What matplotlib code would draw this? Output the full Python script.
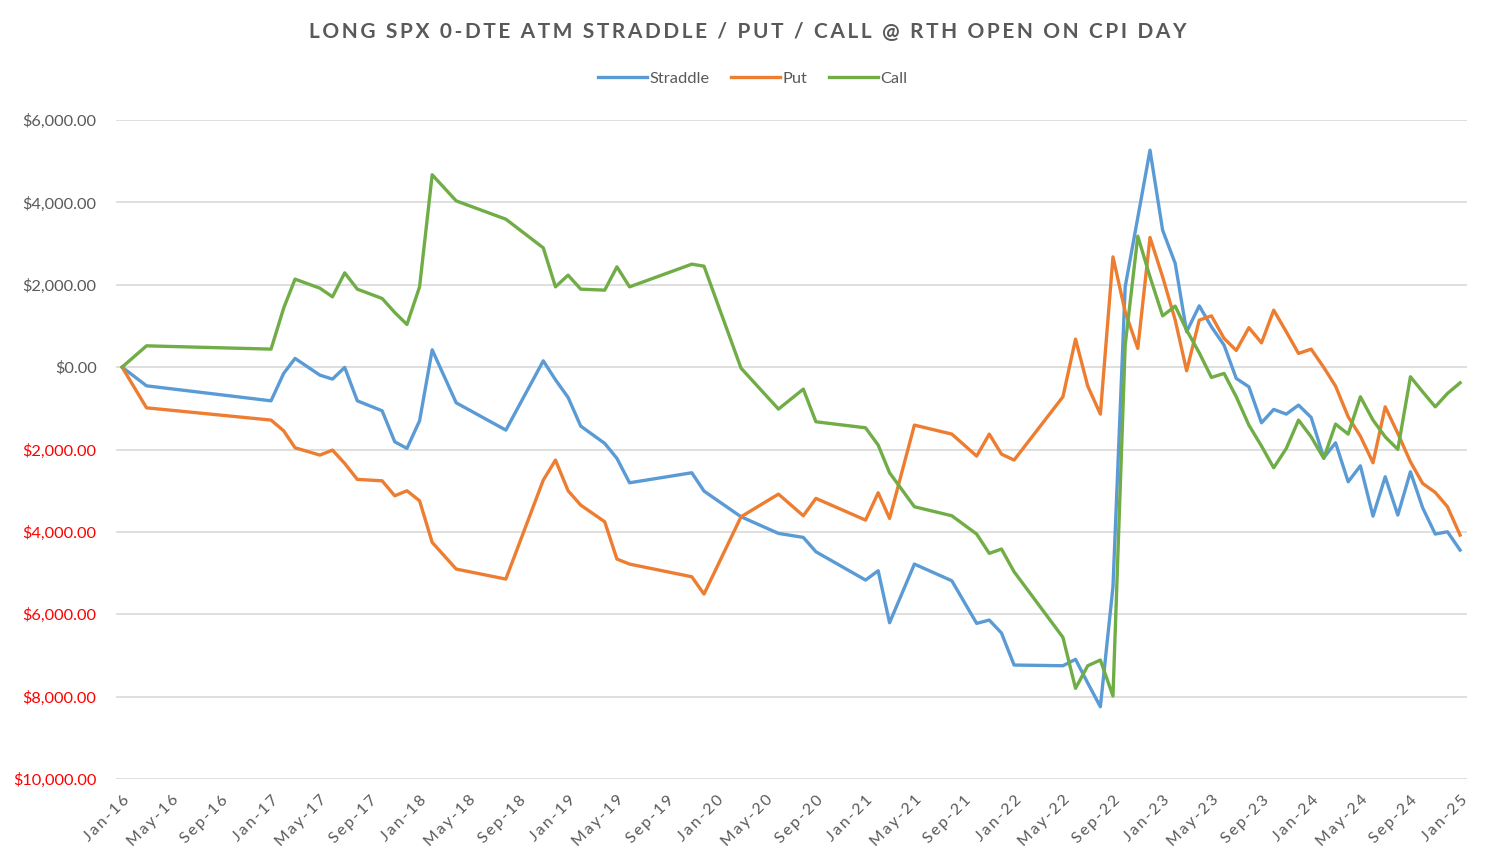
import matplotlib
matplotlib.use("Agg")
import matplotlib.pyplot as plt
import matplotlib.ticker as mticker
import matplotlib.dates as mdates
import pandas as pd

# CPI days (month of release)
dates = [
    "2016-01", "2016-03", "2017-01", "2017-02", "2017-03", "2017-05", "2017-06", "2017-07",
    "2017-08", "2017-10", "2017-11", "2017-12", "2018-01", "2018-02", "2018-04", "2018-08",
    "2018-11", "2018-12", "2019-01", "2019-02", "2019-04", "2019-05", "2019-06", "2019-11",
    "2019-12", "2020-03", "2020-06", "2020-08", "2020-09", "2021-01", "2021-02", "2021-03",
    "2021-05", "2021-08", "2021-10", "2021-11", "2021-12", "2022-01", "2022-05", "2022-06",
    "2022-07", "2022-08", "2022-09", "2022-10", "2022-11", "2022-12", "2023-01", "2023-02",
    "2023-03", "2023-04", "2023-05", "2023-06", "2023-07", "2023-08", "2023-09", "2023-10",
    "2023-11", "2023-12", "2024-01", "2024-02", "2024-03", "2024-04", "2024-05", "2024-06",
    "2024-07", "2024-08", "2024-09", "2024-10", "2024-11", "2024-12", "2025-01",
]

straddle = [
    0, -454, -818, -153, 211, -194, -291, -7, -818, -1060, -1813, -1973, -1303, 420, -866,
    -1529, 153, -308, -736, -1432, -1852, -2216, -2808, -2565, -3010,
    -3633, -4037, -4134, -4483, -5170, -4944, -6206, -4782, -5187, -6222, -6141, -6456, -7233,
    -7250, -7095, -7670, -8245, -5332, 1949, 3633, 5267, 3325, 2516, 857, 1488, 978, 534,
    -275, -478, -1352, -1027, -1141, -922, -1221, -2201, -1837, -2784, -2396, -3617, -2662,
    -3592, -2541, -3415, -4053, -3997, -4442,
]

put = [
    0, -988, -1286, -1546, -1958, -2136, -2015, -2338, -2726, -2760, -3124, -3002, -3245,
    -4255, -4903, -5146, -2743, -2257, -3002, -3350, -3755, -4660, -4782, -5090, -5510,
    -3633, -3083, -3609, -3187, -3714, -3051, -3673, -1408, -1626, -2160, -1626, -2112, -2257,
    -720, 680, -461, -1141, 2677, 1342, 454, 3148, 2192, 1141, -89, 1141, 1245, 697,
    405, 958, 590, 1383, 857, 332, 437, -7, -461, -1206, -1675, -2322, -964,
    -1610, -2298, -2824, -3042, -3390, -4077,
]

call = [
    0, 517, 437, 1432, 2136, 1917, 1706, 2289, 1893, 1667, 1327, 1036, 1949, 4670, 4036,
    3592, 2896, 1949, 2233, 1893, 1869, 2435, 1949, 2500, 2451,
    -25, -1019, -534, -1327, -1473, -1893, -2565, -3390, -3609, -4053, -4522, -4417, -4968,
    -6561, -7799, -7250, -7112, -7985, 534, 3180, 2192, 1245, 1481, 898, 348, -250, -153,
    -720, -1408, -1917, -2444, -1973, -1286, -1692, -2216, -1383, -1626, -720, -1286, -1692,
    -1998, -235, -599, -964, -639, -381,
]

y_ticks = [6000, 4000, 2000, 0, -2000, -4000, -6000, -8000, -10000]

x = pd.to_datetime(dates, format="%Y-%m")
font = ["Lato", "DejaVu Sans"]
gray = "#595959"

fig = plt.figure(figsize=(14.96, 8.66), dpi=100)
ax = fig.add_axes([116 / 1496, 1 - 779 / 866, (1467 - 116) / 1496, (779 - 120) / 866])

ax.plot(x, straddle, color="#5B9BD5", lw=2.4, label="Straddle")
ax.plot(x, put, color="#ED7D31", lw=2.4, label="Put")
ax.plot(x, call, color="#70AD47", lw=2.4, label="Call")

ax.set_ylim(-10000, 6000)
ax.set_yticks(y_ticks)
ax.set_yticklabels([f"${abs(v):,.2f}" for v in y_ticks], family=font, fontsize=11.8)
for lbl, v in zip(ax.get_yticklabels(), y_ticks):
    lbl.set_color("#FF0000" if v < 0 else gray)

ax.set_xlim(pd.Timestamp("2016-01-01") - pd.Timedelta(days=15),
            pd.Timestamp("2025-01-01") + pd.Timedelta(days=17))
ax.set_xticks(pd.date_range("2016-01-01", "2025-01-01", freq="4MS"))
datefmt = mdates.DateFormatter("%b-%y")
# Excel spreads the rotated labels out a bit, so pad the letters
ax.xaxis.set_major_formatter(mticker.FuncFormatter(lambda v, p: "\u2009".join(datefmt(v, p))))
for lbl in ax.get_xticklabels():
    lbl.set_rotation(45)
    lbl.set_ha("right")
    lbl.set_va("top")
    lbl.set_rotation_mode("anchor")
    lbl.set_family(font)
    lbl.set_fontsize(11.5)
    lbl.set_color(gray)

ax.tick_params(axis="y", length=0, pad=14)
ax.tick_params(axis="x", length=0, pad=10)
ax.grid(axis="y", color="#D9D9D9", lw=1.2)
ax.set_axisbelow(True)
for s in ax.spines.values():
    s.set_visible(False)

title = "LONG SPX 0-DTE ATM STRADDLE / PUT / CALL @ RTH OPEN ON CPI DAY"
fig.text(0.5, 1 - 32 / 866, "\u2009".join(title), ha="center", va="center",
         family=font, fontsize=15, fontweight="bold", color=gray)

fig.legend(loc="center", bbox_to_anchor=(0.503, 1 - 79 / 866), ncol=3, frameon=False,
           prop={"family": font, "size": 11.8}, labelcolor=gray,
           handlelength=3.0, handletextpad=0.15, columnspacing=1.3)

fig.savefig("out.png", dpi=100, facecolor="white")
